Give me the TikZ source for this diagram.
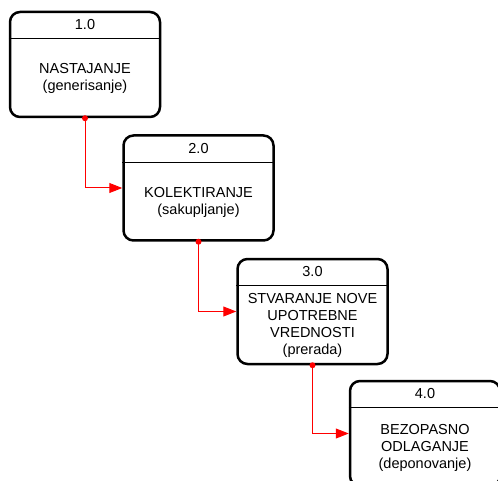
\documentclass[tikz,border=0pt]{standalone}
\usepackage{fontspec}
\setmainfont{Liberation Sans}
\usetikzlibrary{arrows.meta}
\begin{document}
\begin{tikzpicture}[x=1pt, y=-1pt,
    every node/.style={font=\fontsize{14.5}{17}\selectfont},
    proces/.style={draw, line width=2.5pt, rounded corners=10pt, minimum width=150pt, minimum height=105pt},
    body/.style={align=center},
    header/.style={line width=0.8pt},
    link/.style={red, line width=1pt, -{Triangle[length=13pt, width=10pt]}}]
    \useasboundingbox (0,0) rectangle (498,481);
    \clip (0,0) rectangle (498,481);
    % procesi
    \node[proces] (p1) at (85,64.5) {};
    \node[proces] (p2) at (198.5,188) {};
    \node[proces] (p3) at (312.5,311.5) {};
    \node[proces] (p4) at (425,433.5) {};
    \foreach \p in {p1,p2,p3,p4}
        \draw[header] ([yshift=-28pt]\p.north west) -- ([yshift=-28pt]\p.north east);
    \node (n1) at ([yshift=-14pt]p1.north) {1.0};
    \node (n2) at ([yshift=-14pt]p2.north) {2.0};
    \node (n3) at ([yshift=-14pt]p3.north) {3.0};
    \node (n4) at ([yshift=-14pt]p4.north) {4.0};
    \node[body] (t1) at ([yshift=-14pt]p1.center) {NASTAJANJE\\(generisanje)};
    \node[body] (t2) at ([yshift=-14pt]p2.center) {KOLEKTIRANJE\\(sakupljanje)};
    \node[body] (t3) at ([yshift=-14pt]p3.center) {STVARANJE NOVE\\UPOTREBNE\\VREDNOSTI\\(prerada)};
    \node[body] (t4) at ([yshift=-14pt]p4.center) {BEZOPASNO\\ODLAGANJE\\(deponovanje)};
    % tokovi
    \foreach \a/\b in {p1/p2, p2/p3, p3/p4} {
        \draw[link] (\a.south) |- (\b.west);
        \fill[red] (\a.south) circle (3pt);
    }
\end{tikzpicture}
\end{document}
